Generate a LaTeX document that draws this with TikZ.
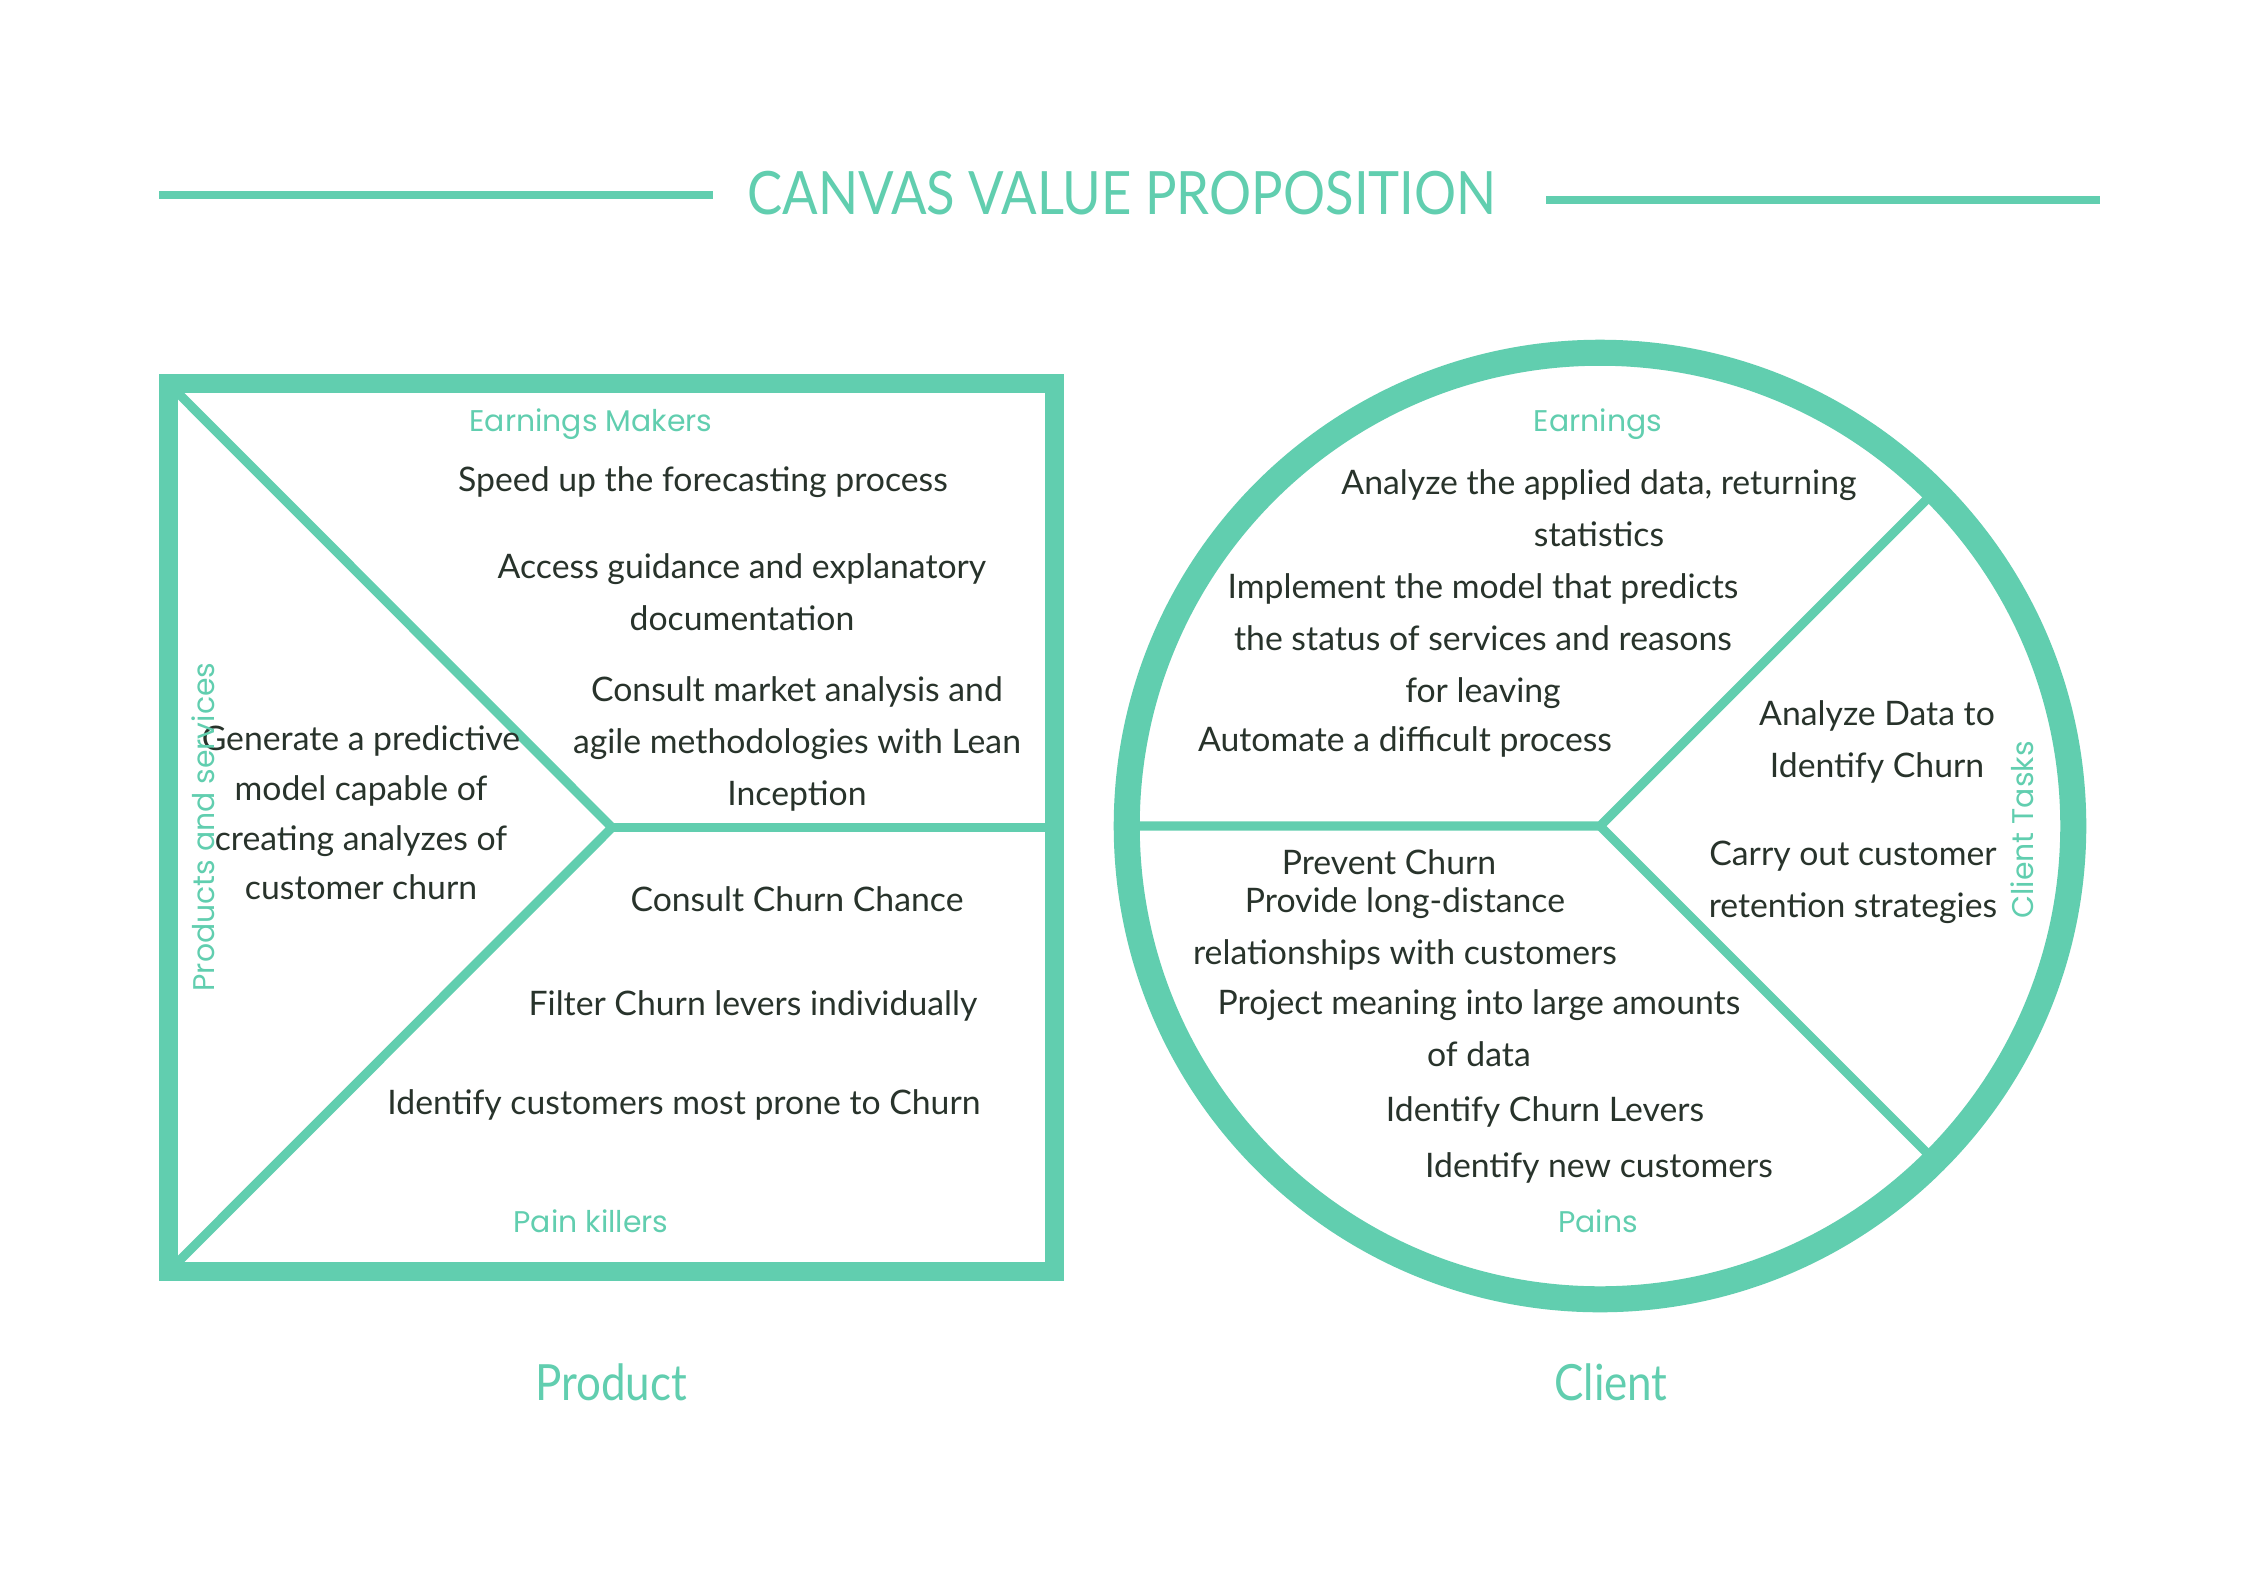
\documentclass[tikz,border=0pt]{standalone}
\usepackage{fontspec}
\setmainfont{Lato}
\newfontfamily\labelfont{Poppins}
\newfontfamily\titlefont[FakeStretch=0.88]{Lato}
\usetikzlibrary{calc}
\definecolor{teal}{HTML}{61CEAF}
\definecolor{ink}{HTML}{28332B}
\tikzset{
  frame/.style={draw=teal, line width=5.4pt},
  divider/.style={draw=teal, line width=2.6pt},
  rule/.style={draw=teal, line width=2pt},
  body/.style={text=ink, align=center, inner sep=0pt,
    font=\fontsize{9.6}{14.7}\selectfont},
  tag/.style={text=teal, inner sep=0pt, font=\labelfont\fontsize{8.5}{10}\selectfont},
  caption/.style={text=teal, inner sep=0pt, font=\titlefont\fontsize{14.2}{16}\selectfont},
}
\begin{document}
\begin{tikzpicture}[x=0.01cm, y=-0.01cm]
\useasboundingbox (0,0) rectangle (2245,1587);
\fill[white] (0,0) rectangle (2245,1587);

% heading with rules on both sides
\node[text=teal, inner sep=0pt, font=\titlefont\fontsize{17}{20}\selectfont] (title) at (1122,193) {CANVAS VALUE PROPOSITION};
\coordinate (rl1) at (159,195);
\coordinate (rl2) at (713,195);
\coordinate (rr1) at (1546,200);
\coordinate (rr2) at (2100,200);
\draw[rule] (rl1) -- (rl2);
\draw[rule] (rr1) -- (rr2);

% ---------- product square ----------
\coordinate (sqA) at (168.5,383.5);
\coordinate (sqB) at (1054.5,1271.5);
\coordinate (sqC) at (168.5,1271.5);
\coordinate (apex) at (612,827.5);
\coordinate (sqR) at (1054.5,827.5);
\draw[divider] (sqA) -- (apex) -- (sqC);
\draw[divider] (apex) -- (sqR);
\draw[frame] (sqA) rectangle (sqB);

\node[tag] (gainmk) at (591,424) {Earnings Makers};
\node[body] (p1) at (703,482) {Speed up the forecasting process};
\node[body] (p2) at (742,592) {Access guidance and explanatory\\documentation};
\node[body] (p3) at (797,744) {Consult market analysis and\\agile methodologies with Lean\\Inception};
\node[body, font=\fontsize{9.6}{14.1}\selectfont] (p4) at (361,813) {Generate a predictive\\model capable of\\creating analyzes of\\customer churn};
\node[tag, rotate=90] (prodserv) at (203,827) {Products and services};
\node[body] (p5) at (797,899) {Consult Churn Chance};
\node[body] (p6) at (753,1006) {Filter Churn levers individually};
\node[body] (p7) at (684,1105) {Identify customers most prone to Churn};
\node[tag] (painkill) at (591,1221) {Pain killers};
\node[caption] (product) at (611,1382) {Product};

% ---------- client circle ----------
\coordinate (cc) at (1600,826);
\coordinate (cL) at ($(cc)+(180:4.73cm)$);
\coordinate (cU) at ($(cc)+(45:4.73cm)$);
\coordinate (cD) at ($(cc)+(-45:4.73cm)$);
\draw[divider] (cL) -- (cc) -- (cU);
\draw[divider] (cc) -- (cD);
\draw[draw=teal, line width=7.4pt] (cc) circle (4.73cm);

\node[tag] (gains) at (1598,424) {Earnings};
\node[body] (c1) at (1599,508) {Analyze the applied data, returning\\statistics};
\node[body] (c2) at (1483,641) {Implement the model that predicts\\the status of services and reasons\\for leaving};
\node[body] (c3) at (1405,742) {Automate a difficult process};
\node[body] (c4) at (1877,742) {Analyze Data to\\Identify Churn};
\node[tag, rotate=90] (tasks) at (2022,830) {Client Tasks};
\node[body] (c5) at (1853,882) {Carry out customer\\retention strategies};
\node[body] (c6) at (1389,862) {Prevent Churn};
\node[body] (c7) at (1405,929) {Provide long-distance\\relationships with customers};
\node[body] (c8) at (1479,1028) {Project meaning into large amounts\\of data};
\node[body] (c9) at (1545,1112) {Identify Churn Levers};
\node[body] (c10) at (1599,1168) {Identify new customers};
\node[tag] (pains) at (1598,1221) {Pains};
\node[caption] (client) at (1611,1382) {Client};
\end{tikzpicture}
\end{document}
